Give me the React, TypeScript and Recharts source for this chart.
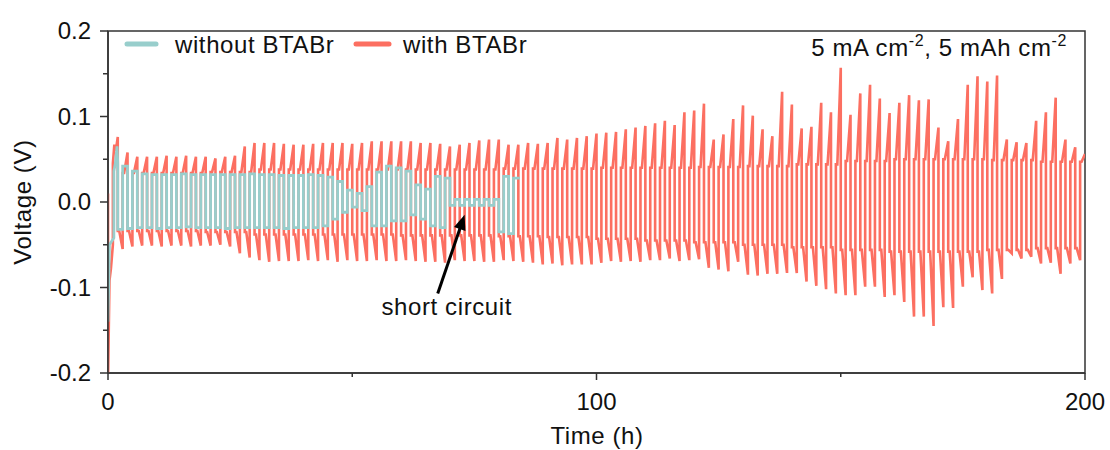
import React from "react";
import { LineChart, Line, XAxis, YAxis, ReferenceArea, ReferenceLine } from "recharts";

const RED = "#FC6F61";
const TEAL = "#98CECC";
const AXIS = "#333333";
const TEXT = "#111111";
const FONT = '"Liberation Sans", Arial, Helvetica, sans-serif';

// ---- axis ticks ----
const xTicks = [0, 50, 100, 150, 200];
const yTicks = [-0.2, -0.15, -0.1, -0.05, 0, 0.05, 0.1, 0.15, 0.2];

// ---- with BTABr (red): per-cycle extremes ----
// peak at end of each positive half, t = 2, 4, ..., 200 h
const redPeak = [
  0.076, 0.058, 0.053, 0.053, 0.053, 0.054, 0.053, 0.054, 0.053, 0.053,
  0.051, 0.053, 0.054, 0.065, 0.069, 0.069, 0.069, 0.068, 0.067, 0.067,
  0.068, 0.069, 0.069, 0.069, 0.068, 0.069, 0.071, 0.071, 0.071, 0.071,
  0.071, 0.069, 0.069, 0.068, 0.065, 0.067, 0.069, 0.072, 0.073, 0.073,
  0.067, 0.067, 0.069, 0.068, 0.069, 0.075, 0.073, 0.075, 0.077, 0.080,
  0.081, 0.082, 0.085, 0.087, 0.089, 0.092, 0.095, 0.090, 0.105, 0.107,
  0.115, 0.073, 0.079, 0.097, 0.113, 0.101, 0.085, 0.077, 0.129, 0.114,
  0.086, 0.088, 0.116, 0.105, 0.157, 0.102, 0.127, 0.137, 0.121, 0.104,
  0.116, 0.125, 0.119, 0.120, 0.087, 0.071, 0.097, 0.137, 0.147, 0.141,
  0.148, 0.073, 0.070, 0.069, 0.095, 0.105, 0.122, 0.073, 0.064, 0.056,
];
// trough at end of each negative half, t = 1, 3, ..., 199 h
const redTrough = [
  -0.050, -0.055, -0.052, -0.051, -0.051, -0.052, -0.051, -0.051, -0.052, -0.051,
  -0.051, -0.050, -0.052, -0.060, -0.065, -0.068, -0.070, -0.069, -0.069, -0.069,
  -0.068, -0.069, -0.068, -0.070, -0.068, -0.069, -0.069, -0.068, -0.069, -0.069,
  -0.068, -0.069, -0.070, -0.070, -0.071, -0.068, -0.069, -0.069, -0.070, -0.070,
  -0.068, -0.069, -0.070, -0.071, -0.073, -0.072, -0.074, -0.073, -0.073, -0.073,
  -0.071, -0.069, -0.070, -0.069, -0.070, -0.068, -0.068, -0.066, -0.069, -0.068,
  -0.067, -0.077, -0.079, -0.081, -0.070, -0.085, -0.086, -0.084, -0.084, -0.083,
  -0.083, -0.093, -0.098, -0.102, -0.107, -0.109, -0.109, -0.099, -0.099, -0.111,
  -0.109, -0.117, -0.134, -0.134, -0.145, -0.123, -0.124, -0.099, -0.088, -0.103,
  -0.107, -0.090, -0.060, -0.066, -0.064, -0.072, -0.071, -0.084, -0.072, -0.068,
];
// plateau level at the start of each half, per 10 h block
const redPosBase = [
  0.034, 0.034, 0.035, 0.038, 0.038, 0.038, 0.038, 0.038, 0.039, 0.039,
  0.040, 0.040, 0.041, 0.042, 0.044, 0.048, 0.050, 0.050, 0.049, 0.047,
];
const redNegBase = [
  -0.034, -0.034, -0.035, -0.038, -0.038, -0.038, -0.039, -0.039, -0.040, -0.041,
  -0.043, -0.045, -0.047, -0.050, -0.053, -0.056, -0.058, -0.058, -0.056, -0.054,
];
// first cycle (nucleation) read point by point
const redLeadNegT = [0, 0.03, 0.3, 0.6];
const redLeadNegV = [0.01, -0.2, -0.092, -0.078];
const redLeadPosT = [1, 1.3, 1.6];
const redLeadPosV = [0.045, 0.067, 0.06];
const KNEE = 0.3; // h into each half where the plateau starts to rise

// ---- without BTABr (teal): plateau level per cycle k = 1..41 (t = 2k .. 2k+2 h) ----
const tealNeg = [
  -0.032, -0.031, -0.030, -0.030, -0.031, -0.030, -0.030, -0.029, -0.030, -0.030,
  -0.030, -0.031, -0.030, -0.030, -0.030, -0.030, -0.030, -0.031, -0.030, -0.030,
  -0.030, -0.028, -0.020, -0.012, -0.006, -0.010, -0.028, -0.028, -0.022, -0.022,
  -0.015, -0.020, -0.028, -0.030, -0.004, -0.004, -0.004, -0.004, -0.004, -0.035,
  -0.037,
];
const tealPos = [
  0.042, 0.036, 0.033, 0.032, 0.032, 0.032, 0.033, 0.032, 0.032, 0.032,
  0.032, 0.032, 0.032, 0.033, 0.032, 0.032, 0.031, 0.031, 0.031, 0.032,
  0.031, 0.029, 0.024, 0.014, 0.010, 0.018, 0.035, 0.042, 0.040, 0.036,
  0.020, 0.015, 0.030, 0.028, 0.003, 0.003, 0.003, 0.003, 0.003, 0.030,
  0.028,
];
const tealLeadT = [0, 0.3, 1.2, 1.2, 1.5, 1.85, 2.0];
const tealLeadV = [-0.14, -0.05, -0.042, 0.036, 0.045, 0.065, 0.045];
const tealTailT = [84.3];
const tealTailV = [0.028];

// ---- annotation ----
const arrowFrom = { t: 67.5, v: -0.107 };
const arrowTo = { t: 73.0, v: -0.015 };

type Pt = { t: number; v: number };

function buildRed(): Pt[] {
  const pts: Pt[] = [];
  redLeadNegT.forEach((t, i) => pts.push({ t, v: redLeadNegV[i] }));
  pts.push({ t: 1, v: redTrough[0] });
  redLeadPosT.forEach((t, i) => pts.push({ t, v: redLeadPosV[i] }));
  pts.push({ t: 2, v: redPeak[0] });
  for (let k = 1; k < redPeak.length; k++) {
    const tn = 2 * k;
    const bn = redNegBase[Math.floor(tn / 10)];
    pts.push({ t: tn, v: bn });
    pts.push({ t: tn + KNEE, v: bn });
    pts.push({ t: tn + 1, v: redTrough[k] });
    const tp = tn + 1;
    const bp = redPosBase[Math.floor(tp / 10)];
    pts.push({ t: tp, v: bp });
    pts.push({ t: tp + KNEE, v: bp });
    pts.push({ t: tp + 1, v: redPeak[k] });
  }
  return pts;
}

function buildTeal(): Pt[] {
  const pts: Pt[] = [];
  tealLeadT.forEach((t, i) => pts.push({ t, v: tealLeadV[i] }));
  for (let i = 0; i < tealPos.length; i++) {
    const tn = 2 * (i + 1);
    pts.push({ t: tn, v: tealNeg[i] });
    pts.push({ t: tn + 1, v: tealNeg[i] });
    pts.push({ t: tn + 1, v: tealPos[i] });
    pts.push({ t: tn + 2, v: tealPos[i] });
  }
  tealTailT.forEach((t, i) => pts.push({ t, v: tealTailV[i] }));
  return pts;
}

const redData = buildRed();
const tealData = buildTeal();

const YTick = (p: any) => {
  const { x, y, payload } = p;
  const v = payload.value as number;
  const major = Math.abs(v * 10 - Math.round(v * 10)) < 1e-6;
  return (
    <g>
      <line x1={x} x2={x - (major ? 8 : 5)} y1={y} y2={y} stroke={AXIS} strokeWidth={1.5} />
      {major && (
        <text x={x - 17} y={y} dy="0.35em" textAnchor="end" fontSize={24} fontFamily={FONT} fill={TEXT}>
          {v.toFixed(1)}
        </text>
      )}
    </g>
  );
};

const XTick = (p: any) => {
  const { x, y, payload } = p;
  const v = payload.value as number;
  const major = v % 100 === 0;
  return (
    <g>
      <line x1={x} x2={x} y1={y} y2={y + (major ? 7 : 4)} stroke={AXIS} strokeWidth={1.5} />
      {major && (
        <text x={x} y={y + 37} textAnchor="middle" fontSize={24} fontFamily={FONT} fill={TEXT}>
          {v}
        </text>
      )}
    </g>
  );
};

const ArrowShape = (p: any) => {
  const { x1, y1, x2, y2 } = p;
  const dx = x2 - x1;
  const dy = y2 - y1;
  const len = Math.sqrt(dx * dx + dy * dy);
  const ux = dx / len;
  const uy = dy / len;
  const head = 15;
  const half = 6;
  const bx = x2 - ux * head;
  const by = y2 - uy * head;
  const px = -uy;
  const py = ux;
  return (
    <g>
      <line x1={x1} y1={y1} x2={bx + ux * 2} y2={by + uy * 2} stroke="#000" strokeWidth={3} />
      <polygon
        points={`${x2},${y2} ${bx + px * half},${by + py * half} ${bx - px * half},${by - py * half}`}
        fill="#000"
      />
      <text
        x={x1 + 9}
        y={y1 + 22}
        textAnchor="middle"
        fontSize={24}
        letterSpacing={0.6}
        fontFamily={FONT}
        fill={TEXT}
      >
        short circuit
      </text>
    </g>
  );
};

export default function App() {
  return (
    <div style={{ position: "absolute", left: 0, top: 0, width: 1110, height: 450, background: "#fff" }}>
      <LineChart width={1110} height={450} margin={{ top: 31, right: 25, left: 0, bottom: 0 }}>
        <XAxis
          type="number"
          dataKey="t"
          domain={[0, 200]}
          ticks={xTicks}
          interval={0}
          allowDataOverflow
          height={77}
          tickSize={0}
          tickMargin={0}
          tickLine={false}
          axisLine={{ stroke: AXIS, strokeWidth: 1.5 }}
          tick={<XTick />}
        />
        <YAxis
          type="number"
          dataKey="v"
          domain={[-0.2, 0.2]}
          ticks={yTicks}
          interval={0}
          allowDataOverflow
          width={108}
          tickSize={0}
          tickMargin={0}
          tickLine={false}
          axisLine={{ stroke: AXIS, strokeWidth: 1.5 }}
          tick={<YTick />}
        />
        <Line
          data={redData}
          dataKey="v"
          type="linear"
          stroke={RED}
          strokeWidth={2.6}
          dot={false}
          activeDot={false}
          isAnimationActive={false}
          name="with BTABr"
        />
        <Line
          data={tealData}
          dataKey="v"
          type="linear"
          stroke={TEAL}
          strokeWidth={2.8}
          dot={false}
          activeDot={false}
          isAnimationActive={false}
          name="without BTABr"
        />
        <ReferenceArea
          x1={0}
          x2={200}
          y1={-0.2}
          y2={0.2}
          fill="none"
          stroke={AXIS}
          strokeWidth={1.5}
          ifOverflow="visible"
        />
        <ReferenceLine
          segment={[
            { x: arrowFrom.t, y: arrowFrom.v },
            { x: arrowTo.t, y: arrowTo.v },
          ]}
          ifOverflow="visible"
          shape={ArrowShape}
        />
      </LineChart>
      <svg
        width={1110}
        height={450}
        style={{ position: "absolute", left: 0, top: 0, pointerEvents: "none" }}
        fontFamily={FONT}
      >
        <line x1={127} x2={156} y1={44} y2={44} stroke={TEAL} strokeWidth={5} strokeLinecap="round" />
        <text x={175} y={53} fontSize={24} letterSpacing={0.6} fill={TEXT}>without BTABr</text>
        <line x1={356} x2={389} y1={44} y2={44} stroke={RED} strokeWidth={5} strokeLinecap="round" />
        <text x={403} y={53} fontSize={24} letterSpacing={0.6} fill={TEXT}>with BTABr</text>
        <text x={1067} y={56} fontSize={24} letterSpacing={0.6} fill={TEXT} textAnchor="end">
          <tspan>5 mA cm</tspan>
          <tspan dy={-10} fontSize={16}>-2</tspan>
          <tspan dy={10}>, 5 mAh cm</tspan>
          <tspan dy={-10} fontSize={16}>-2</tspan>
        </text>
        <text
          transform="translate(31,202) rotate(-90)"
          textAnchor="middle"
          fontSize={24}
          letterSpacing={0.6}
          fill={TEXT}
        >
          Voltage (V)
        </text>
        <text x={597} y={444} textAnchor="middle" fontSize={24} letterSpacing={0.6} fill={TEXT}>
          Time (h)
        </text>
      </svg>
    </div>
  );
}
